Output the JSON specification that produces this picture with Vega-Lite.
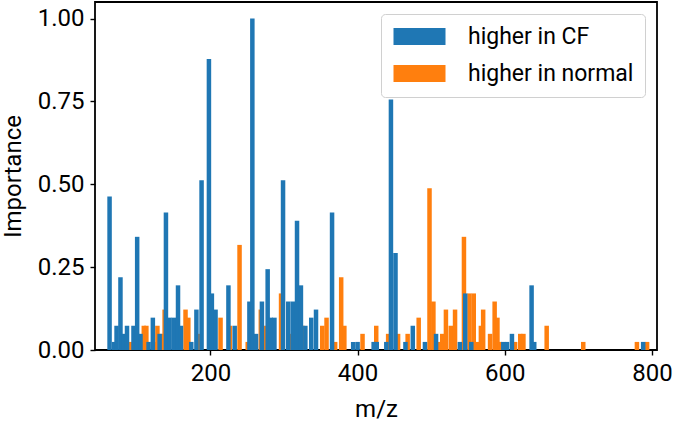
{
  "$schema": "https://vega.github.io/schema/vega-lite/v6.json",
  "width": 562,
  "height": 348,
  "autosize": {"type": "none"},
  "padding": {"left": 95, "top": 2, "right": 20, "bottom": 71},
  "config": {
    "view": {"stroke": "black", "strokeWidth": 1.8},
    "font": "Roboto",
    "axis": {"domain": false, "grid": false, "tickColor": "black", "tickWidth": 1.4, "tickSize": 5, "labelColor": "black", "labelFontSize": 24, "titleFontSize": 24, "titleColor": "black", "titleFontWeight": "normal", "labelFont": "Roboto", "titleFont": "Roboto"}
  },
  "data": {"values": [
    {"mz": 92, "importance": 0.0244, "group": "higher in normal"},
    {"mz": 109.5, "importance": 0.0732, "group": "higher in normal"},
    {"mz": 113, "importance": 0.0732, "group": "higher in normal"},
    {"mz": 124, "importance": 0.0244, "group": "higher in normal"},
    {"mz": 128, "importance": 0.0732, "group": "higher in normal"},
    {"mz": 133.5, "importance": 0.0488, "group": "higher in normal"},
    {"mz": 137.8, "importance": 0.1220, "group": "higher in normal"},
    {"mz": 166.2, "importance": 0.1220, "group": "higher in normal"},
    {"mz": 170, "importance": 0.0976, "group": "higher in normal"},
    {"mz": 184, "importance": 0.0488, "group": "higher in normal"},
    {"mz": 204, "importance": 0.0488, "group": "higher in normal"},
    {"mz": 213.8, "importance": 0.0976, "group": "higher in normal"},
    {"mz": 226.5, "importance": 0.0732, "group": "higher in normal"},
    {"mz": 239.6, "importance": 0.3171, "group": "higher in normal"},
    {"mz": 250.7, "importance": 0.0244, "group": "higher in normal"},
    {"mz": 268.5, "importance": 0.1220, "group": "higher in normal"},
    {"mz": 274, "importance": 0.0732, "group": "higher in normal"},
    {"mz": 296, "importance": 0.1707, "group": "higher in normal"},
    {"mz": 311, "importance": 0.0488, "group": "higher in normal"},
    {"mz": 325, "importance": 0.0732, "group": "higher in normal"},
    {"mz": 352, "importance": 0.0732, "group": "higher in normal"},
    {"mz": 357.8, "importance": 0.0976, "group": "higher in normal"},
    {"mz": 369.5, "importance": 0.0244, "group": "higher in normal"},
    {"mz": 377.7, "importance": 0.2195, "group": "higher in normal"},
    {"mz": 382, "importance": 0.0732, "group": "higher in normal"},
    {"mz": 406.7, "importance": 0.0488, "group": "higher in normal"},
    {"mz": 425.3, "importance": 0.0732, "group": "higher in normal"},
    {"mz": 441.5, "importance": 0.0488, "group": "higher in normal"},
    {"mz": 455, "importance": 0.0488, "group": "higher in normal"},
    {"mz": 468, "importance": 0.0488, "group": "higher in normal"},
    {"mz": 483, "importance": 0.0976, "group": "higher in normal"},
    {"mz": 497.7, "importance": 0.4878, "group": "higher in normal"},
    {"mz": 503, "importance": 0.1463, "group": "higher in normal"},
    {"mz": 511, "importance": 0.0244, "group": "higher in normal"},
    {"mz": 515, "importance": 0.0488, "group": "higher in normal"},
    {"mz": 520, "importance": 0.1220, "group": "higher in normal"},
    {"mz": 526.6, "importance": 0.0732, "group": "higher in normal"},
    {"mz": 532.4, "importance": 0.1220, "group": "higher in normal"},
    {"mz": 544.5, "importance": 0.3415, "group": "higher in normal"},
    {"mz": 552, "importance": 0.1707, "group": "higher in normal"},
    {"mz": 557.8, "importance": 0.1707, "group": "higher in normal"},
    {"mz": 563, "importance": 0.0244, "group": "higher in normal"},
    {"mz": 567.5, "importance": 0.0732, "group": "higher in normal"},
    {"mz": 570.6, "importance": 0.1220, "group": "higher in normal"},
    {"mz": 580, "importance": 0.0488, "group": "higher in normal"},
    {"mz": 586.2, "importance": 0.1463, "group": "higher in normal"},
    {"mz": 590, "importance": 0.0976, "group": "higher in normal"},
    {"mz": 593.5, "importance": 0.0244, "group": "higher in normal"},
    {"mz": 614, "importance": 0.0244, "group": "higher in normal"},
    {"mz": 621, "importance": 0.0488, "group": "higher in normal"},
    {"mz": 625.3, "importance": 0.0488, "group": "higher in normal"},
    {"mz": 656.9, "importance": 0.0732, "group": "higher in normal"},
    {"mz": 706.6, "importance": 0.0244, "group": "higher in normal"},
    {"mz": 779.5, "importance": 0.0244, "group": "higher in normal"},
    {"mz": 793.3, "importance": 0.0244, "group": "higher in normal"},
    {"mz": 63, "importance": 0.4634, "group": "higher in CF"},
    {"mz": 69, "importance": 0.0244, "group": "higher in CF"},
    {"mz": 72.5, "importance": 0.0732, "group": "higher in CF"},
    {"mz": 77.8, "importance": 0.2195, "group": "higher in CF"},
    {"mz": 82, "importance": 0.0488, "group": "higher in CF"},
    {"mz": 86.7, "importance": 0.0732, "group": "higher in CF"},
    {"mz": 95.5, "importance": 0.0732, "group": "higher in CF"},
    {"mz": 100.5, "importance": 0.3415, "group": "higher in CF"},
    {"mz": 105, "importance": 0.0488, "group": "higher in CF"},
    {"mz": 116, "importance": 0.0244, "group": "higher in CF"},
    {"mz": 121.8, "importance": 0.0976, "group": "higher in CF"},
    {"mz": 131, "importance": 0.0488, "group": "higher in CF"},
    {"mz": 139.6, "importance": 0.4146, "group": "higher in CF"},
    {"mz": 144.5, "importance": 0.0976, "group": "higher in CF"},
    {"mz": 150.2, "importance": 0.0976, "group": "higher in CF"},
    {"mz": 156, "importance": 0.1951, "group": "higher in CF"},
    {"mz": 160, "importance": 0.0732, "group": "higher in CF"},
    {"mz": 174, "importance": 0.0244, "group": "higher in CF"},
    {"mz": 181, "importance": 0.1220, "group": "higher in CF"},
    {"mz": 188, "importance": 0.5122, "group": "higher in CF"},
    {"mz": 198, "importance": 0.8780, "group": "higher in CF"},
    {"mz": 202, "importance": 0.1707, "group": "higher in CF"},
    {"mz": 207, "importance": 0.1220, "group": "higher in CF"},
    {"mz": 224.5, "importance": 0.1951, "group": "higher in CF"},
    {"mz": 233, "importance": 0.0732, "group": "higher in CF"},
    {"mz": 253, "importance": 0.1463, "group": "higher in CF"},
    {"mz": 257, "importance": 1.0, "group": "higher in CF"},
    {"mz": 262, "importance": 0.0488, "group": "higher in CF"},
    {"mz": 270, "importance": 0.1463, "group": "higher in CF"},
    {"mz": 277.8, "importance": 0.2439, "group": "higher in CF"},
    {"mz": 282, "importance": 0.0976, "group": "higher in CF"},
    {"mz": 287, "importance": 0.0976, "group": "higher in CF"},
    {"mz": 298.7, "importance": 0.5122, "group": "higher in CF"},
    {"mz": 305.8, "importance": 0.1463, "group": "higher in CF"},
    {"mz": 312, "importance": 0.1463, "group": "higher in CF"},
    {"mz": 317.7, "importance": 0.3902, "group": "higher in CF"},
    {"mz": 323, "importance": 0.1951, "group": "higher in CF"},
    {"mz": 329, "importance": 0.0732, "group": "higher in CF"},
    {"mz": 337, "importance": 0.0976, "group": "higher in CF"},
    {"mz": 343.5, "importance": 0.1220, "group": "higher in CF"},
    {"mz": 365.3, "importance": 0.4146, "group": "higher in CF"},
    {"mz": 394, "importance": 0.0244, "group": "higher in CF"},
    {"mz": 400, "importance": 0.0244, "group": "higher in CF"},
    {"mz": 421.8, "importance": 0.0244, "group": "higher in CF"},
    {"mz": 426, "importance": 0.0244, "group": "higher in CF"},
    {"mz": 439, "importance": 0.0244, "group": "higher in CF"},
    {"mz": 445.3, "importance": 0.7561, "group": "higher in CF"},
    {"mz": 451.5, "importance": 0.2927, "group": "higher in CF"},
    {"mz": 465, "importance": 0.0244, "group": "higher in CF"},
    {"mz": 475, "importance": 0.0732, "group": "higher in CF"},
    {"mz": 491.5, "importance": 0.0244, "group": "higher in CF"},
    {"mz": 506.6, "importance": 0.0488, "group": "higher in CF"},
    {"mz": 539, "importance": 0.0244, "group": "higher in CF"},
    {"mz": 546.2, "importance": 0.1707, "group": "higher in CF"},
    {"mz": 554.5, "importance": 0.0244, "group": "higher in CF"},
    {"mz": 598, "importance": 0.0244, "group": "higher in CF"},
    {"mz": 603, "importance": 0.0244, "group": "higher in CF"},
    {"mz": 609.7, "importance": 0.0488, "group": "higher in CF"},
    {"mz": 636.4, "importance": 0.1951, "group": "higher in CF"},
    {"mz": 640, "importance": 0.0244, "group": "higher in CF"},
    {"mz": 788, "importance": 0.0244, "group": "higher in CF"}
  ]},
  "mark": {"type": "bar", "width": 4.5, "orient": "vertical"},
  "encoding": {
    "x": {"field": "mz", "type": "quantitative", "scale": {"domain": [50, 800], "nice": false, "zero": false}, "axis": {"title": "m/z", "values": [200, 400, 600, 800], "labelPadding": 6, "titlePadding": 12}},
    "y": {"field": "importance", "type": "quantitative", "stack": null, "scale": {"domain": [0, 1.05], "nice": false}, "axis": {"title": "Importance", "values": [0, 0.25, 0.5, 0.75, 1], "format": ".2f", "labelPadding": 6, "titlePadding": 12}},
    "color": {"field": "group", "type": "nominal", "scale": {"domain": ["higher in CF", "higher in normal"], "range": ["#1f77b4", "#ff7f0e"]},
      "legend": {"title": null, "orient": "top-right", "offset": 12, "symbolType": "M-1,-0.85H4.2V0.85H-1Z", "symbolSize": 400, "symbolStrokeWidth": 0, "symbolOpacity": 1, "labelFontSize": 23, "labelFont": "Roboto", "labelColor": "black", "labelOffset": 53, "labelLimit": 400, "rowPadding": 13, "padding": 11, "strokeColor": "#d0d0d0", "fillColor": "rgba(255,255,255,0.8)", "cornerRadius": 4}}
  }
}
